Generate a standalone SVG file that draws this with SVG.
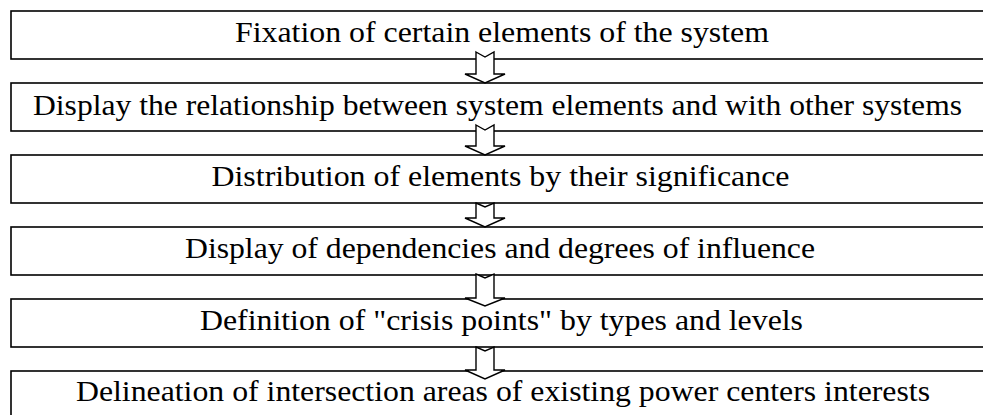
<svg xmlns="http://www.w3.org/2000/svg" width="983" height="415" viewBox="0 0 983 415">
<style>
.box{fill:#fff;stroke:#000;stroke-width:1.6}
.arr{fill:#fff;stroke:#000;stroke-width:1.4;stroke-linejoin:miter}
.t{font-family:"Liberation Serif","Times New Roman",serif;font-size:30px;fill:#000;text-anchor:middle}
</style>
<rect width="983" height="415" fill="#fff"/>
<g id="n1"><rect class="box" x="11" y="11" width="990" height="48"/><text class="t" x="502" y="42" textLength="534" lengthAdjust="spacingAndGlyphs">Fixation of certain elements of the system</text></g>
<g id="n2"><rect class="box" x="11" y="83" width="990" height="48"/><text class="t" x="497.5" y="115" textLength="929" lengthAdjust="spacingAndGlyphs">Display the relationship between system elements and with other systems</text></g>
<g id="n3"><rect class="box" x="11" y="155" width="990" height="48"/><text class="t" x="500.5" y="186" textLength="578" lengthAdjust="spacingAndGlyphs">Distribution of elements by their significance</text></g>
<g id="n4"><rect class="box" x="11" y="227" width="990" height="48"/><text class="t" x="500" y="258" textLength="630" lengthAdjust="spacingAndGlyphs">Display of dependencies and degrees of influence</text></g>
<g id="n5"><rect class="box" x="11" y="299" width="990" height="48"/><text class="t" x="501.5" y="330" textLength="603" lengthAdjust="spacingAndGlyphs">Definition of "crisis points" by types and levels</text></g>
<g id="n6"><rect class="box" x="11" y="371" width="990" height="60"/><text class="t" x="503" y="401" textLength="854" lengthAdjust="spacingAndGlyphs">Delineation of intersection areas of existing power centers interests</text></g>
<g id="connectors">
<path class="arr" d="M476,52 L485,57 L494,52 L494,74 L505,74 L485,83 L465,74 L476,74 Z"/>
<path class="arr" d="M476,125 L485,130 L494,125 L494,146 L505,146 L485,155 L465,146 L476,146 Z"/>
<path class="arr" d="M476,203 L485,207 L494,203 L494,218 L505,218 L485,227 L465,218 L476,218 Z"/>
<path class="arr" d="M476,274 L485,278 L494,274 L494,298 L505,298 L485,306 L465,298 L476,298 Z"/>
<path class="arr" d="M476,347 L485,351 L494,347 L494,370 L505,370 L485,379 L465,370 L476,370 Z"/>
</g>
</svg>
